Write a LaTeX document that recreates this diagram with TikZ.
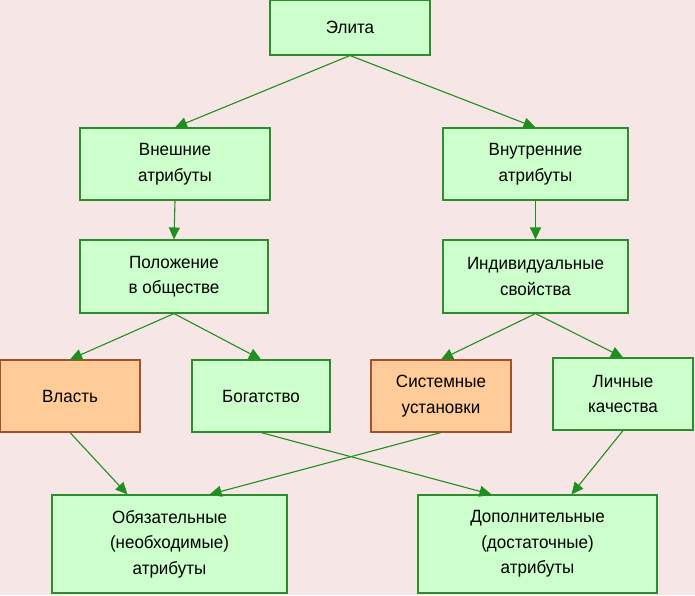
\documentclass[tikz,border=0pt]{standalone}
\usepackage{fontspec}
\setmainfont{Liberation Sans}[FakeStretch=0.96]
\usetikzlibrary{arrows.meta}
\definecolor{bg}{HTML}{F7E6E6}
\definecolor{gfill}{HTML}{CCFFCC}
\definecolor{gline}{HTML}{2E8B2E}
\definecolor{ofill}{HTML}{FFCC99}
\definecolor{oline}{HTML}{A0522D}
\definecolor{arr}{HTML}{1F8F1F}
\tikzset{
  box/.style={draw=gline, fill=gfill, line width=1.1pt, align=center, inner sep=0pt,
    font=\fontsize{17.7}{25.5}\selectfont},
  obox/.style={box, draw=oline, fill=ofill},
  conn/.style={draw=arr, line width=1.1pt, -{Triangle[length=12pt,width=11pt]}}
}
\begin{document}
\begin{tikzpicture}[x=1pt,y=-1pt]
\fill[bg] (0,0) rectangle (695,595);
\useasboundingbox (0,0) rectangle (695,595);
\newcommand{\bx}[6]{\node[#1, minimum width=#4pt, minimum height=#5pt] (#2) at (#3) {#6};}
\bx{box}{elita}{350,27.5}{160}{55}{Элита}
\bx{box}{vnesh}{175,164}{190}{72}{Внешние\\атрибуты}
\bx{box}{vnutr}{535.5,164}{185}{72}{Внутренние\\атрибуты}
\bx{box}{polozh}{174,276.5}{188}{73}{Положение\\в обществе}
\bx{box}{indiv}{535.5,276.5}{185}{73}{Индивидуальные\\свойства}
\bx{obox}{vlast}{70,396}{140}{72}{Власть}
\bx{box}{bogat}{261,396}{138}{72}{Богатство}
\bx{obox}{sist}{441,396}{140}{72}{Системные\\установки}
\bx{box}{lichn}{623,394}{140}{72}{Личные\\качества}
\bx{box}{obyaz}{169.5,544}{235}{98}{Обязательные\\(необходимые)\\атрибуты}
\bx{box}{dop}{537.5,544}{239}{98}{Дополнительные\\(достаточные)\\атрибуты}
\draw[conn] (elita.south) -- (vnesh.north);
\draw[conn] (elita.south) -- (vnutr.north);
\draw[conn] (vnesh.south) -- (polozh.north);
\draw[conn] (vnutr.south) -- (indiv.north);
\draw[conn] (polozh.south) -- (vlast.north);
\draw[conn] (polozh.south) -- (bogat.north);
\draw[conn] (indiv.south) -- (sist.north);
\draw[conn] (indiv.south) -- (lichn.north);
\draw[conn] (vlast.south) -- ([xshift=-42pt]obyaz.north);
\draw[conn] (bogat.south) -- ([xshift=-46pt]dop.north);
\draw[conn] (sist.south) -- ([xshift=40pt]obyaz.north);
\draw[conn] (lichn.south) -- ([xshift=34pt]dop.north);
\end{tikzpicture}
\end{document}
